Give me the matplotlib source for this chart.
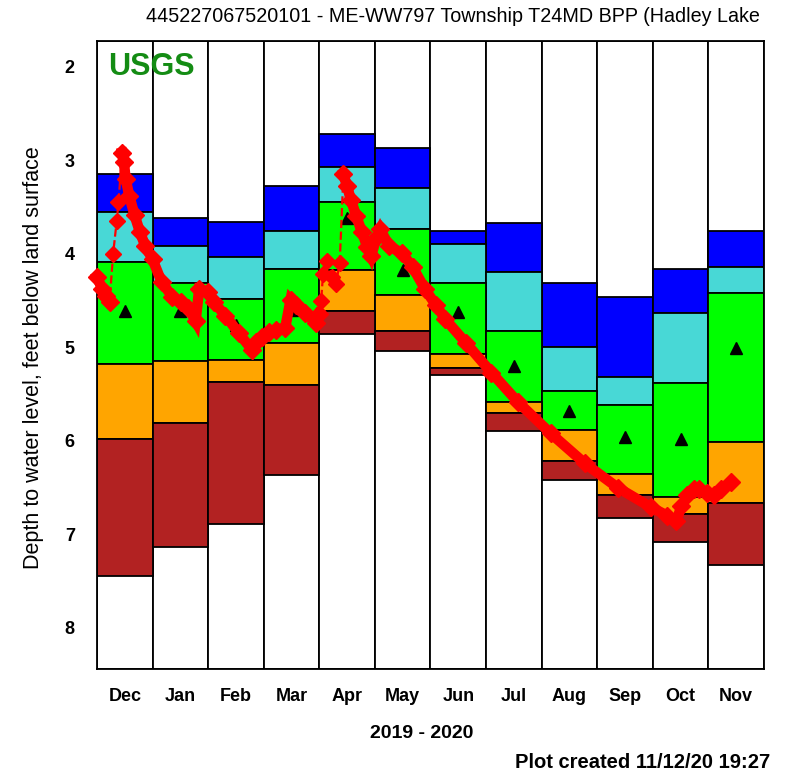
import calendar
from datetime import date
import numpy as np
import matplotlib
matplotlib.use("Agg")
import matplotlib.pyplot as plt

plt.rcParams['font.family'] = ['Liberation Sans', 'DejaVu Sans']

# Months shown (Dec 2019 - Nov 2020)
months = ["Dec", "Jan", "Feb", "Mar", "Apr", "May", "Jun", "Jul", "Aug", "Sep", "Oct", "Nov"]

# Percentile class boundaries per month (depth, ft below land surface)
# top of blue, blue/cyan, cyan/green, green/orange, orange/red, bottom of red
p_max = [3.15, 3.62, 3.66, 3.27, 2.72, 2.87, 3.76, 3.67, 4.31, 4.46, 4.16, 3.76]
p90 = [3.55, 3.92, 4.03, 3.76, 3.07, 3.30, 3.90, 4.20, 5.00, 5.32, 4.63, 4.14]
p75 = [4.09, 4.31, 4.48, 4.16, 3.45, 3.73, 4.31, 4.83, 5.47, 5.62, 5.38, 4.42]
p25 = [5.18, 5.15, 5.14, 4.95, 4.17, 4.44, 5.07, 5.58, 5.88, 6.35, 6.60, 6.01]
p10 = [5.98, 5.81, 5.37, 5.40, 4.61, 4.83, 5.22, 5.70, 6.22, 6.58, 6.78, 6.67]
p_min = [7.45, 7.14, 6.89, 6.37, 4.86, 5.04, 5.30, 5.90, 6.42, 6.83, 7.08, 7.33]
medians = [4.61, 4.61, 4.76, 4.60, 3.62, 4.17, 4.62, 5.20, 5.68, 5.96, 5.98, 5.01]

# Measured water levels
obs_dates = [
    "2019-12-01", "2019-12-04", "2019-12-06", "2019-12-08", "2019-12-10", "2019-12-12",
    "2019-12-13", "2019-12-15", "2019-12-16", "2019-12-17", "2019-12-19", "2019-12-22",
    "2019-12-25", "2019-12-28", "2020-01-01", "2020-01-06", "2020-01-12", "2020-01-17",
    "2020-01-21", "2020-01-25", "2020-01-27", "2020-02-01", "2020-02-04", "2020-02-10",
    "2020-02-17", "2020-02-24", "2020-02-26", "2020-02-29", "2020-03-04", "2020-03-08",
    "2020-03-13", "2020-03-16", "2020-03-19", "2020-03-24", "2020-03-30", "2020-04-01",
    "2020-04-02", "2020-04-03", "2020-04-05", "2020-04-08", "2020-04-10", "2020-04-12",
    "2020-04-14", "2020-04-16", "2020-04-18", "2020-04-21", "2020-04-24", "2020-04-27",
    "2020-04-29", "2020-05-02", "2020-05-04", "2020-05-09", "2020-05-16", "2020-05-22",
    "2020-05-29", "2020-06-04", "2020-06-09", "2020-06-20", "2020-07-04", "2020-07-19",
    "2020-08-06", "2020-08-25", "2020-09-12", "2020-09-30", "2020-10-09", "2020-10-14",
    "2020-10-17", "2020-10-20", "2020-10-24", "2020-10-27", "2020-10-31", "2020-11-04",
    "2020-11-08", "2020-11-13",
]
obs_depth = [
    4.25, 4.38, 4.45, 4.52, 4.00, 3.65,
    3.45, 2.92, 3.02, 3.20, 3.38, 3.59,
    3.77, 3.92, 4.06, 4.30, 4.46, 4.52,
    4.58, 4.72, 4.38, 4.41, 4.52, 4.66,
    4.85, 5.03, 4.94, 4.89, 4.84, 4.81,
    4.79, 4.49, 4.55, 4.63, 4.74, 4.64,
    4.50, 4.22, 4.08, 4.25, 4.32, 4.10,
    3.15, 3.28, 3.42, 3.60, 3.77, 3.93,
    4.02, 3.82, 3.74, 3.92, 3.99, 4.14,
    4.38, 4.55, 4.70, 4.95, 5.27, 5.59,
    5.92, 6.24, 6.50, 6.71, 6.80, 6.86,
    6.70, 6.58, 6.52, 6.51, 6.56, 6.58,
    6.52, 6.44,
]
# stretches with continuous (daily) record
continuous = [("2019-12-01", "2019-12-08"), ("2019-12-15", "2020-04-01"), ("2020-04-14", "2020-11-13")]


def month_pos(s):
    d = date.fromisoformat(s)
    idx = (d.year - 2019) * 12 + d.month - 12
    return idx + (d.day - 1) / calendar.monthrange(d.year, d.month)[1]


x_obs = np.array([month_pos(s) for s in obs_dates])
y_obs = np.array(obs_depth)

fig = plt.figure(figsize=(7.93, 7.77), dpi=100)
ax = fig.add_axes([0.1223, 0.139, 0.8411, 0.8082])

ytop, ybot = 1.725, 8.44
x = np.arange(len(months)) + 0.5
w = 1.0
ec = dict(edgecolor="black", linewidth=1.3)

# full white columns then the percentile classes
ax.bar(x, ybot - ytop, bottom=ytop, width=w, color="white", **ec)
layers = [(p_max, p90, "#0000FF"), (p90, p75, "#48D8D6"), (p75, p25, "#00FF00"),
          (p25, p10, "#FFA500"), (p10, p_min, "#B22222")]
for a, b, c in layers:
    a = np.array(a)
    b = np.array(b)
    ax.bar(x, b - a, bottom=a, width=w, color=c, **ec)

ax.plot(x, medians, "^", color="black", markersize=9, zorder=3)

# water levels
ax.plot(x_obs, y_obs, "--", color="red", linewidth=1.6, marker="D", markersize=8,
        zorder=4, clip_on=False)
for s0, s1 in continuous:
    m = (x_obs >= month_pos(s0)) & (x_obs <= month_pos(s1))
    ax.plot(x_obs[m], y_obs[m], "-", color="red", linewidth=7.5, marker="D", markersize=9.5,
            solid_joinstyle="miter", zorder=5, clip_on=False)

ax.set_xlim(0, 12)
ax.set_ylim(ybot, ytop)
ax.set_xticks(x)
ax.set_xticklabels(months, fontsize=13, fontweight="bold")
ax.set_yticks([2, 3, 4, 5, 6, 7, 8])
ax.set_yticklabels(["2", "3", "4", "5", "6", "7", "8"], fontsize=13, fontweight="bold")
ax.tick_params(length=0, pad=16)
ax.tick_params(axis="x", pad=14)
for sp in ax.spines.values():
    sp.set_linewidth(1.3)

ax.text(0.2, 2.0, "USGS", color="#148C14", fontsize=22, fontweight="bold", va="center", ha="left")

fig.text(0.571, 0.979, "445227067520101 - ME-WW797 Township T24MD BPP (Hadley Lake",
         ha="center", va="center", fontsize=14.2)
fig.text(0.042, 0.54, "Depth to water level, feet below land surface", rotation=90,
         ha="center", va="center", fontsize=15.5)
fig.text(0.532, 0.056, "2019 - 2020", ha="center", va="center", fontsize=14, fontweight="bold")
fig.text(0.971, 0.019, "Plot created 11/12/20 19:27", ha="right", va="center", fontsize=14.5,
         fontweight="bold")

fig.savefig("out.png", dpi=100)
